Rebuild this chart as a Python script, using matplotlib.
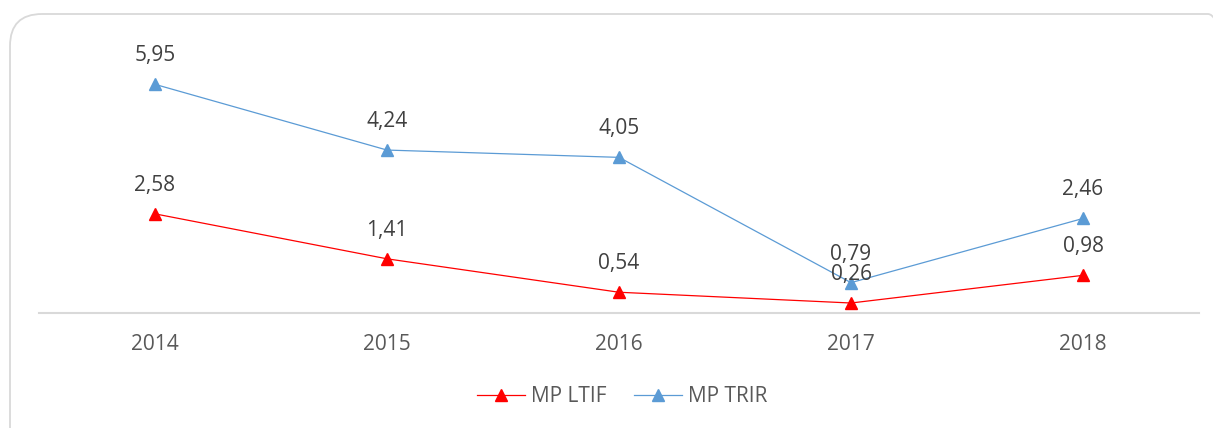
import matplotlib
matplotlib.use("Agg")
import matplotlib.pyplot as plt
from matplotlib.patches import FancyBboxPatch

years = ["2014", "2015", "2016", "2017", "2018"]
ltif = [2.58, 1.41, 0.54, 0.26, 0.98]
trir = [5.95, 4.24, 4.05, 0.79, 2.46]

RED = "#ff0000"
BLUE = "#5b9bd5"

plt.rcParams["font.family"] = ["Open Sans", "DejaVu Sans"]

fig = plt.figure(figsize=(12.13, 4.28), dpi=100)
W, H = 1213, 428

# rounded chart border (inches), runs off the right and bottom edges
border = FancyBboxPatch((0.10, -0.4), 12.3, 4.54,
                        boxstyle="round,pad=0,rounding_size=0.32",
                        transform=fig.dpi_scale_trans, fill=False,
                        edgecolor="#d9d9d9", linewidth=1.3)
fig.patches.append(border)

ax = fig.add_axes([39 / W, (H - 313) / H, 1160 / W, 269 / H])
x = list(range(len(years)))

ax.plot(x, ltif, color=RED, lw=0.9, marker="^", ms=9, label="MP LTIF")
ax.plot(x, trir, color=BLUE, lw=0.9, marker="^", ms=9, label="MP TRIR")

for series in (ltif, trir):
    for xi, v in zip(x, series):
        ax.annotate(f"{v:.2f}".replace(".", ","), (xi, v), xytext=(0, 13),
                    textcoords="offset points", ha="center", va="bottom",
                    fontsize=15, color="#404040")

ax.set_xlim(-0.5, 4.5)
ax.set_ylim(0, 7.0)
ax.set_xticks(x)
ax.set_xticklabels(years, fontsize=15, color="#595959")
ax.tick_params(axis="x", length=0, pad=15)
ax.set_yticks([])
for s in ["top", "left", "right"]:
    ax.spines[s].set_visible(False)
ax.spines["bottom"].set_color("#d9d9d9")
ax.spines["bottom"].set_linewidth(1.5)
ax.patch.set_alpha(0)

leg = fig.legend(loc="center", bbox_to_anchor=(622 / W, 1 - 397 / H),
                 ncol=2, frameon=False, fontsize=15, handlelength=2.3,
                 columnspacing=1.3, handletextpad=0.3)
for t in leg.get_texts():
    t.set_color("#595959")

fig.savefig("out.png", dpi=100)
